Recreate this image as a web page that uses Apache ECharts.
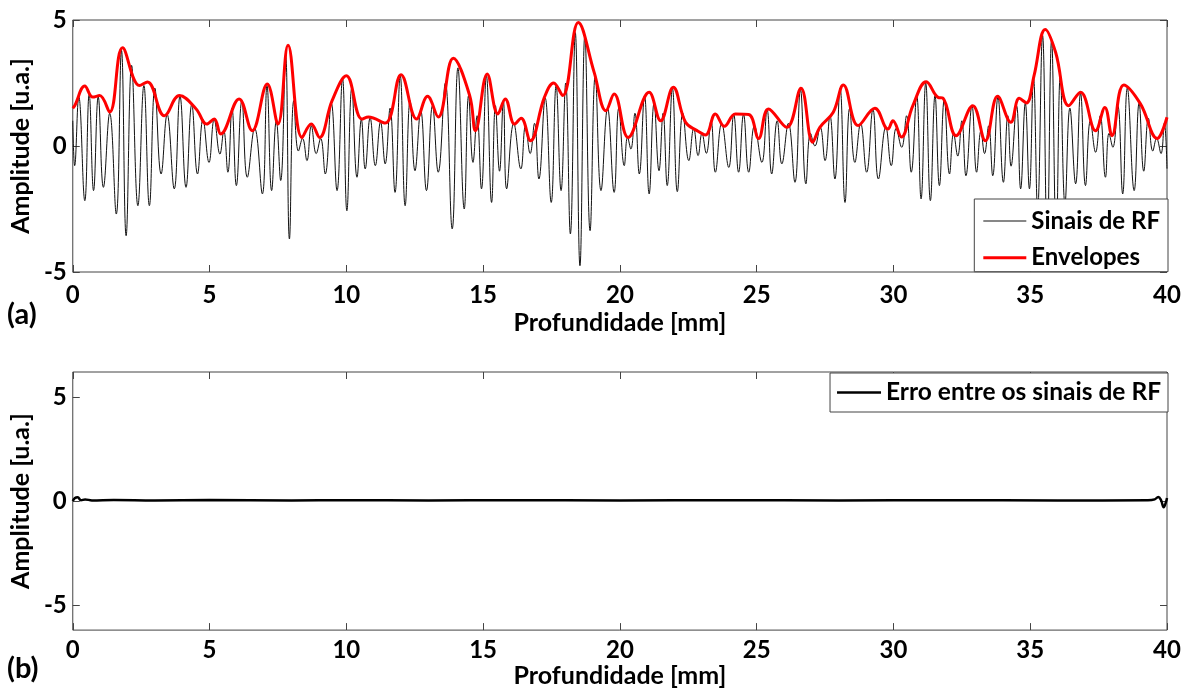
<!DOCTYPE html>
<html>
<head>
<meta charset="utf-8">
<script src="https://cdn.jsdelivr.net/npm/echarts@6/dist/echarts.min.js"></script>
<style>
  html, body { margin: 0; padding: 0; background: #fff; }
  #chart { width: 1189px; height: 689px; }
</style>
</head>
<body>
<div id="chart"></div>
<script>
// Depth axis ticks (mm) and amplitude ticks (u.a.)
const depthTicks = [0, 5, 10, 15, 20, 25, 30, 35, 40];
const ampTicks = [-5, 0, 5];

// RF signal: successive crests and troughs [depth mm, amplitude]
const rfSignal = [
  [0,1.0],[0.07,-0.78],[0.22,1.95],[0.44,-2.17],[0.6,2.05],[0.76,-1.77],[0.93,1.95],[1.12,-1.64],[1.35,1.3],[1.59,-2.7],
  [1.78,3.8],[1.95,-3.56],[2.15,3.2],[2.38,-2.37],[2.6,2.4],[2.8,-2.37],[3.0,2.3],[3.23,-1.11],[3.45,1.25],[3.71,-1.7],
  [3.92,1.98],[4.14,-1.64],[4.35,1.65],[4.56,-1.11],[4.76,1.05],[4.98,-0.65],[5.17,1.05],[5.38,-0.32],[5.52,0.6],[5.67,-1.04],
  [5.82,1.5],[5.98,-1.57],[6.18,1.8],[6.38,-1.24],[6.65,0.7],[6.93,-1.9],[7.1,2.4],[7.27,-1.77],[7.44,1.0],[7.6,-1.37],
  [7.78,3.6],[7.92,-3.69],[8.08,1.8],[8.25,-0.2],[8.4,0.3],[8.56,-0.58],[8.72,0.8],[8.9,-0.3],[9.06,0.3],[9.23,-1.11],
  [9.45,1.7],[9.66,-1.77],[9.86,2.7],[10.02,-2.57],[10.2,2.3],[10.39,-1.24],[10.55,1.05],[10.69,-0.91],[10.87,1.12],[11.06,-0.78],
  [11.25,0.95],[11.42,-0.71],[11.6,1.5],[11.78,-1.84],[11.97,2.8],[12.15,-2.37],[12.33,1.8],[12.51,-0.98],[12.72,1.4],[12.93,-1.77],
  [13.15,1.6],[13.36,-1.04],[13.62,2.5],[13.87,-3.29],[14.08,3.1],[14.31,-2.5],[14.47,2.0],[14.63,-0.65],[14.78,1.2],[14.94,-1.7],
  [15.12,2.8],[15.31,-2.24],[15.45,1.6],[15.6,-1.0],[15.74,1.8],[15.86,-1.7],[16.12,0.9],[16.38,-0.91],[16.55,0.8],[16.72,-0.3],
  [16.88,0.9],[17.04,-1.31],[17.27,1.9],[17.49,-2.24],[17.67,2.4],[17.85,-1.77],[18.02,2.5],[18.19,-3.49],[18.37,4.5],[18.54,-4.75],
  [18.72,4.4],[18.91,-3.36],[19.1,2.8],[19.31,-1.77],[19.55,1.5],[19.79,-1.84],[19.96,1.5],[20.16,-0.78],[20.28,0.35],[20.4,-0.12],
  [20.55,1.3],[20.71,-1.11],[20.9,2.0],[21.07,-1.9],[21.25,1.7],[21.43,-0.98],[21.58,1.3],[21.73,-1.57],[21.92,2.3],[22.1,-1.81],
  [22.3,1.3],[22.52,-0.58],[22.7,0.7],[22.86,-0.38],[23.0,0.5],[23.16,-0.29],[23.33,1.0],[23.49,-1.04],[23.72,0.9],[23.98,-0.85],
  [24.16,1.25],[24.34,-1.04],[24.52,1.25],[24.71,-1.04],[24.92,0.8],[25.19,-0.65],[25.38,1.45],[25.55,-1.11],[25.75,1.0],[25.92,-0.71],
  [26.16,0.9],[26.4,-1.44],[26.6,2.25],[26.8,-1.5],[26.97,0.5],[27.13,0.0],[27.32,0.75],[27.5,-0.58],[27.68,1.2],[27.86,-1.31],
  [28.05,2.3],[28.23,-2.24],[28.4,1.5],[28.59,-0.65],[28.8,0.9],[29.02,-1.04],[29.25,1.45],[29.45,-1.31],[29.72,0.75],[29.92,-0.78],
  [30.1,0.7],[30.3,-0.05],[30.48,1.2],[30.65,-1.04],[30.85,2.0],[31.01,-2.1],[31.18,2.5],[31.35,-2.17],[31.52,2.0],[31.68,-1.57],
  [31.86,1.85],[32.05,-1.11],[32.2,0.5],[32.35,-0.4],[32.5,1.0],[32.65,-1.18],[32.87,1.6],[33.04,-1.04],[33.2,0.6],[33.33,-0.3],
  [33.48,0.8],[33.63,-1.18],[33.82,1.95],[34.02,-1.44],[34.18,1.2],[34.3,-0.8],[34.5,1.6],[34.65,-1.7],[34.82,1.7],[34.97,-1.7],
  [35.12,2.7],[35.27,-2.5],[35.45,4.4],[35.62,-3.8],[35.78,4.2],[35.95,-3.6],[36.1,2.8],[36.27,-2.3],[36.45,1.5],[36.66,-1.5],
  [36.84,2.1],[37.02,-1.57],[37.2,1.0],[37.39,-0.25],[37.56,1.2],[37.75,-1.24],[37.88,0.5],[38.02,-0.05],[38.2,1.6],[38.38,-1.9],
  [38.55,2.3],[38.8,-1.77],[38.98,1.7],[39.15,-1.0],[39.32,1.1],[39.48,-0.2],[39.62,0.3],[39.78,-0.3],[39.9,0.9],[40.0,-0.9]
];

// Envelope of the RF signal [depth mm, amplitude]
const envelope = [
  [0,1.5],[0.07,1.6],[0.44,2.38],[0.73,1.94],[0.98,2.0],[1.35,1.35],[1.82,3.9],[2.44,2.4],[2.73,2.54],[3.35,1.2],
  [3.9,2.0],[4.51,1.47],[4.9,0.87],[5.17,1.07],[5.41,0.48],[6.08,1.87],[6.56,0.61],[7.11,2.46],[7.5,0.87],[7.87,4.0],
  [8.38,0.34],[8.72,0.87],[9.02,0.34],[9.48,1.8],[10.0,2.79],[10.57,1.07],[10.81,1.15],[11.42,0.91],[12.0,2.83],[12.57,1.07],
  [12.97,1.97],[13.36,1.15],[13.91,3.48],[14.51,2.0],[14.72,0.61],[15.15,2.86],[15.54,1.27],[15.81,1.87],[16.15,0.87],[16.39,1.1],
  [16.73,0.21],[17.24,1.93],[17.58,2.5],[17.91,2.0],[18.48,4.9],[19.06,2.92],[19.49,1.4],[19.79,2.06],[20.3,0.34],[21.07,2.13],
  [21.49,1.0],[21.95,2.33],[22.4,0.94],[22.82,0.61],[23.13,0.44],[23.49,1.27],[23.82,0.78],[24.22,1.27],[24.71,1.25],[25.07,0.3],
  [25.43,1.47],[26.1,0.74],[26.62,2.29],[27.05,0.15],[27.31,0.74],[27.8,1.34],[28.17,2.42],[28.71,0.81],[29.32,1.5],[29.8,0.67],
  [29.98,1.0],[30.29,0.36],[30.71,1.6],[31.2,2.55],[31.63,1.93],[31.81,1.9],[32.29,0.41],[32.9,1.6],[33.36,0.21],[33.81,1.97],
  [34.29,0.94],[34.6,1.89],[34.86,1.71],[35.14,2.79],[35.55,4.62],[35.93,3.71],[36.41,1.6],[36.84,2.13],[37.39,0.61],[37.73,1.53],
  [37.99,0.41],[38.42,2.42],[39.03,1.67],[39.64,0.3],[40.0,1.14]
];

// Difference between the two RF signals [depth mm, amplitude]
const rfError = [
  [0,0.0],[0.08,0.15],[0.18,0.18],[0.3,0.04],[0.45,0.08],[0.7,0.03],[1.5,0.05],[3,0.03],[5,0.05],[8,0.03],
  [10,0.04],[13,0.03],[16,0.04],[20,0.03],[24,0.04],[28,0.03],[32,0.04],[36,0.03],[39.3,0.04],[39.55,0.08],
  [39.68,0.2],[39.78,0.05],[39.88,-0.3],[39.95,-0.1],[40,0.15]
];

const FONT = 'Lato, "Open Sans", sans-serif';
const labelStyle = { color: '#000', fontSize: 24, fontWeight: 'bold', fontFamily: FONT };
const nameStyle = { color: '#000', fontSize: 25, fontWeight: 'bold', fontFamily: FONT };
const frameColor = '#444';
const tickStyle = { inside: true, length: 7, lineStyle: { color: frameColor, width: 1 } };

function mainX(gridIndex, nameGap, labelMargin) {
  return {
    type: 'value', gridIndex, min: 0, max: 40, interval: 5, position: 'bottom',
    name: 'Profundidade [mm]', nameLocation: 'middle', nameGap,
    nameTextStyle: nameStyle,
    axisLine: { show: false, onZero: false },
    axisTick: tickStyle,
    axisLabel: Object.assign({ margin: labelMargin, customValues: depthTicks, formatter: v => String(v) }, labelStyle),
    splitLine: { show: false }
  };
}
function mirrorX(gridIndex) {
  return {
    type: 'value', gridIndex, min: 0, max: 40, interval: 5, position: 'top',
    axisLine: { show: false, onZero: false },
    axisTick: tickStyle,
    axisLabel: { show: false }, splitLine: { show: false }
  };
}
function yAxisDef(gridIndex, lim, position, withLabels) {
  return {
    type: 'value', gridIndex, min: -lim, max: lim, position,
    name: withLabels ? 'Amplitude [u.a.]' : '',
    nameLocation: 'middle', nameGap: 31, nameRotate: 90,
    nameTextStyle: nameStyle,
    axisLine: { show: false, onZero: false },
    axisTick: Object.assign({ customValues: ampTicks }, tickStyle),
    axisLabel: Object.assign({ show: withLabels, margin: 6, customValues: ampTicks, formatter: v => String(v) }, labelStyle),
    splitLine: { show: false }
  };
}

const chart = echarts.init(document.getElementById('chart'), null, { renderer: 'canvas' });
chart.setOption({
  animation: false,
  backgroundColor: '#fff',
  grid: [
    { left: 68, right: 22, top: 20, height: 252, show: true, borderColor: frameColor, borderWidth: 1, backgroundColor: '#fff' },
    { left: 68, right: 22, top: 372, height: 261, show: true, borderColor: frameColor, borderWidth: 1, backgroundColor: '#fff' }
  ],
  xAxis: [mainX(0, 38, 11), mainX(1, 32, 8), mirrorX(0), mirrorX(1)],
  yAxis: [
    yAxisDef(0, 5, 'left', true), yAxisDef(1, 6.2, 'left', true),
    yAxisDef(0, 5, 'right', false), yAxisDef(1, 6.2, 'right', false)
  ],
  legend: [
    {
      orient: 'vertical', right: 21, top: 199,
      data: [
        { name: 'Sinais de RF', icon: 'path://M0,0H43V1H0Z' },
        { name: 'Envelopes', icon: 'path://M0,0H43V3H0Z' }
      ],
      itemWidth: 43, itemHeight: 24, itemGap: 12.7,
      padding: [10, 8, 2, 9],
      backgroundColor: '#fff', borderColor: frameColor, borderWidth: 1, borderRadius: 0,
      textStyle: labelStyle
    },
    {
      orient: 'horizontal', right: 21, top: 373,
      data: [{ name: 'Erro entre os sinais de RF', icon: 'path://M0,0H44V2.5H0Z' }],
      itemWidth: 44, itemHeight: 24,
      padding: [7, 7, 7, 7],
      backgroundColor: '#fff', borderColor: frameColor, borderWidth: 1, borderRadius: 0,
      textStyle: Object.assign({}, labelStyle, { fontSize: 24.5 })
    }
  ],
  graphic: [
    { type: 'text', left: 7, top: 300, style: { text: '(a)', fill: '#000', font: 'bold 29px ' + FONT } },
    { type: 'text', left: 7, top: 654, style: { text: '(b)', fill: '#000', font: 'bold 29px ' + FONT } }
  ],
  series: [
    {
      name: 'Sinais de RF', type: 'line', xAxisIndex: 0, yAxisIndex: 0,
      data: rfSignal, symbol: 'none', smooth: 0.45, z: 2,
      lineStyle: { color: '#111', width: 1 }, itemStyle: { color: '#111' }
    },
    {
      name: 'Envelopes', type: 'line', xAxisIndex: 0, yAxisIndex: 0,
      data: envelope, symbol: 'none', smooth: 0.4, z: 3,
      lineStyle: { color: '#ff0000', width: 3 }, itemStyle: { color: '#ff0000' }
    },
    {
      name: 'Erro entre os sinais de RF', type: 'line', xAxisIndex: 1, yAxisIndex: 1,
      data: rfError, symbol: 'none', smooth: 0.4, z: 2,
      lineStyle: { color: '#000', width: 2.5 }, itemStyle: { color: '#000' }
    }
  ]
});
</script>
</body>
</html>
